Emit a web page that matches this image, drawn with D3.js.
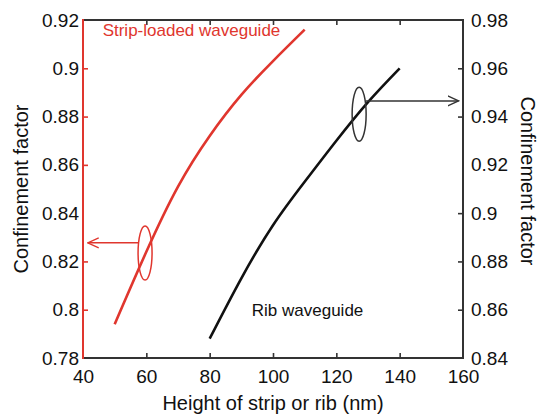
<!DOCTYPE html>
<html>
<head>
<meta charset="utf-8">
<script src="https://cdn.jsdelivr.net/npm/d3@7"></script>
<style>
  body { margin: 0; background: #fff; }
  text { font-family: "Liberation Sans", Arial, sans-serif; }
</style>
</head>
<body>
<div id="chart"></div>
<script>
// strip-loaded waveguide (left axis)
const stripHeight = [50, 60, 70, 80, 90, 100, 110]
const stripConf = [0.794, 0.824, 0.851, 0.872, 0.889, 0.903, 0.916]
// rib waveguide (right axis)
const ribHeight = [80, 90, 100, 110, 120, 130, 140]
const ribConf = [0.848, 0.873, 0.895, 0.913, 0.930, 0.946, 0.960]

const xTicks = [40, 60, 80, 100, 120, 140, 160]
const leftTicks = [0.78, 0.8, 0.82, 0.84, 0.86, 0.88, 0.9, 0.92]
const rightTicks = [0.84, 0.86, 0.88, 0.9, 0.92, 0.94, 0.96, 0.98]

const red = '#e0362e'
const dark = '#333'

const dimensions = {
    width: 540,
    height: 417,
    margin: { left: 83, right: 77, top: 20, bottom: 59 }
}
dimensions.ctrWidth = dimensions.width - dimensions.margin.left - dimensions.margin.right
dimensions.ctrHeight = dimensions.height - dimensions.margin.top - dimensions.margin.bottom

const xScale = d3.scaleLinear().domain([40, 160]).range([0, dimensions.ctrWidth])
const yLeft = d3.scaleLinear().domain([0.78, 0.92]).range([dimensions.ctrHeight, 0])
const yRight = d3.scaleLinear().domain([0.84, 0.98]).range([dimensions.ctrHeight, 0])

const svg = d3.select('#chart')
    .append('svg')
    .attr('width', dimensions.width)
    .attr('height', dimensions.height)

const defs = svg.append('defs')
const marker = (id, color) => defs.append('marker')
    .attr('id', id)
    .attr('viewBox', '0 -6 12 12')
    .attr('refX', 11).attr('refY', 0)
    .attr('markerWidth', 12).attr('markerHeight', 12)
    .attr('markerUnits', 'userSpaceOnUse')
    .attr('orient', 'auto')
    .append('path')
    .attr('d', 'M0,-5L11,0L0,5')
    .attr('fill', 'none')
    .attr('stroke', color)
    .attr('stroke-width', 1.4)
marker('arrRed', red)
marker('arrBlack', dark)

const ctr = svg.append('g')
    .attr('transform', `translate(${dimensions.margin.left},${dimensions.margin.top})`)

// axes (labels + inward ticks)
const fmt = d => String(+d.toFixed(2))

const xAxis = d3.axisBottom(xScale).tickValues(xTicks).tickSizeInner(-5).tickSizeOuter(0).tickPadding(8)
const xAxisTop = d3.axisTop(xScale).tickValues(xTicks).tickSizeInner(-5).tickSizeOuter(0).tickFormat('')
const leftAxis = d3.axisLeft(yLeft).tickValues(leftTicks).tickSizeInner(-5).tickSizeOuter(0).tickPadding(4).tickFormat(fmt)
const rightAxis = d3.axisRight(yRight).tickValues(rightTicks).tickSizeInner(-5).tickSizeOuter(0).tickPadding(8).tickFormat(fmt)

const styleAxis = (g, color) => {
    g.select('.domain').remove()
    g.selectAll('line').attr('stroke', color).attr('stroke-width', 1.6)
    g.selectAll('text').attr('fill', '#111').style('font-size', '19px')
}

const gx = ctr.append('g').attr('transform', `translate(0,${dimensions.ctrHeight})`).call(xAxis)
styleAxis(gx, dark)
gx.selectAll('text').attr('dy', '0.9em')
const gxt = ctr.append('g').call(xAxisTop)
styleAxis(gxt, dark)
const gl = ctr.append('g').call(leftAxis)
styleAxis(gl, red)
const gr = ctr.append('g').attr('transform', `translate(${dimensions.ctrWidth},0)`).call(rightAxis)
styleAxis(gr, dark)

// hide the corner ticks
ctr.selectAll('.tick').filter(d => d === 40 || d === 160 || d === 0.78 || d === 0.92 || d === 0.84 || d === 0.98)
    .select('line').remove()

// frame
ctr.append('path')
    .attr('d', `M0,0H${dimensions.ctrWidth}V${dimensions.ctrHeight}H0`)
    .attr('fill', 'none').attr('stroke', dark).attr('stroke-width', 2)
ctr.append('line')
    .attr('x1', 0).attr('x2', 0).attr('y1', -1).attr('y2', dimensions.ctrHeight + 1)
    .attr('stroke', red).attr('stroke-width', 2)

// curves
const stripData = stripHeight.map((h, i) => ({ h, c: stripConf[i] }))
const ribData = ribHeight.map((h, i) => ({ h, c: ribConf[i] }))

const stripLine = d3.line().x(d => xScale(d.h)).y(d => yLeft(d.c)).curve(d3.curveNatural)
const ribLine = d3.line().x(d => xScale(d.h)).y(d => yRight(d.c)).curve(d3.curveNatural)

ctr.append('path').datum(stripData)
    .attr('d', stripLine)
    .attr('fill', 'none').attr('stroke', red).attr('stroke-width', 2.6)
ctr.append('path').datum(ribData)
    .attr('d', ribLine)
    .attr('fill', 'none').attr('stroke', '#111').attr('stroke-width', 2.6)

// annotations
ctr.append('ellipse')
    .attr('cx', xScale(59.6)).attr('cy', yLeft(0.8235))
    .attr('rx', 7).attr('ry', 27)
    .attr('fill', 'none').attr('stroke', red).attr('stroke-width', 1.5)
ctr.append('line')
    .attr('x1', xScale(57.6)).attr('x2', xScale(41.5))
    .attr('y1', yLeft(0.8277)).attr('y2', yLeft(0.8277))
    .attr('stroke', red).attr('stroke-width', 1.5)
    .attr('marker-end', 'url(#arrRed)')

ctr.append('ellipse')
    .attr('cx', xScale(127.2)).attr('cy', yRight(0.941))
    .attr('rx', 7).attr('ry', 27)
    .attr('fill', 'none').attr('stroke', dark).attr('stroke-width', 1.5)
ctr.append('line')
    .attr('x1', xScale(129.3)).attr('x2', xScale(158.6))
    .attr('y1', yRight(0.9465)).attr('y2', yRight(0.9465))
    .attr('stroke', dark).attr('stroke-width', 1.5)
    .attr('marker-end', 'url(#arrBlack)')

ctr.append('text')
    .attr('x', xScale(46.2)).attr('y', yLeft(0.9135))
    .attr('fill', red).style('font-size', '17px')
    .text('Strip-loaded waveguide')
ctr.append('text')
    .attr('x', xScale(93.3)).attr('y', yRight(0.8575))
    .attr('fill', '#111').style('font-size', '17px')
    .text('Rib waveguide')

// axis titles
svg.append('text')
    .attr('x', dimensions.margin.left + xScale(100)).attr('y', 410)
    .attr('text-anchor', 'middle').attr('fill', '#111').style('font-size', '20px')
    .text('Height of strip or rib (nm)')
svg.append('text')
    .attr('transform', `translate(28,${dimensions.margin.top + dimensions.ctrHeight / 2}) rotate(-90)`)
    .attr('text-anchor', 'middle').attr('fill', '#111').style('font-size', '20px')
    .text('Confinement factor')
svg.append('text')
    .attr('transform', `translate(521,${dimensions.margin.top + dimensions.ctrHeight / 2 - 8}) rotate(90)`)
    .attr('text-anchor', 'middle').attr('fill', '#111').style('font-size', '20px')
    .text('Confinement factor')
</script>
</body>
</html>
